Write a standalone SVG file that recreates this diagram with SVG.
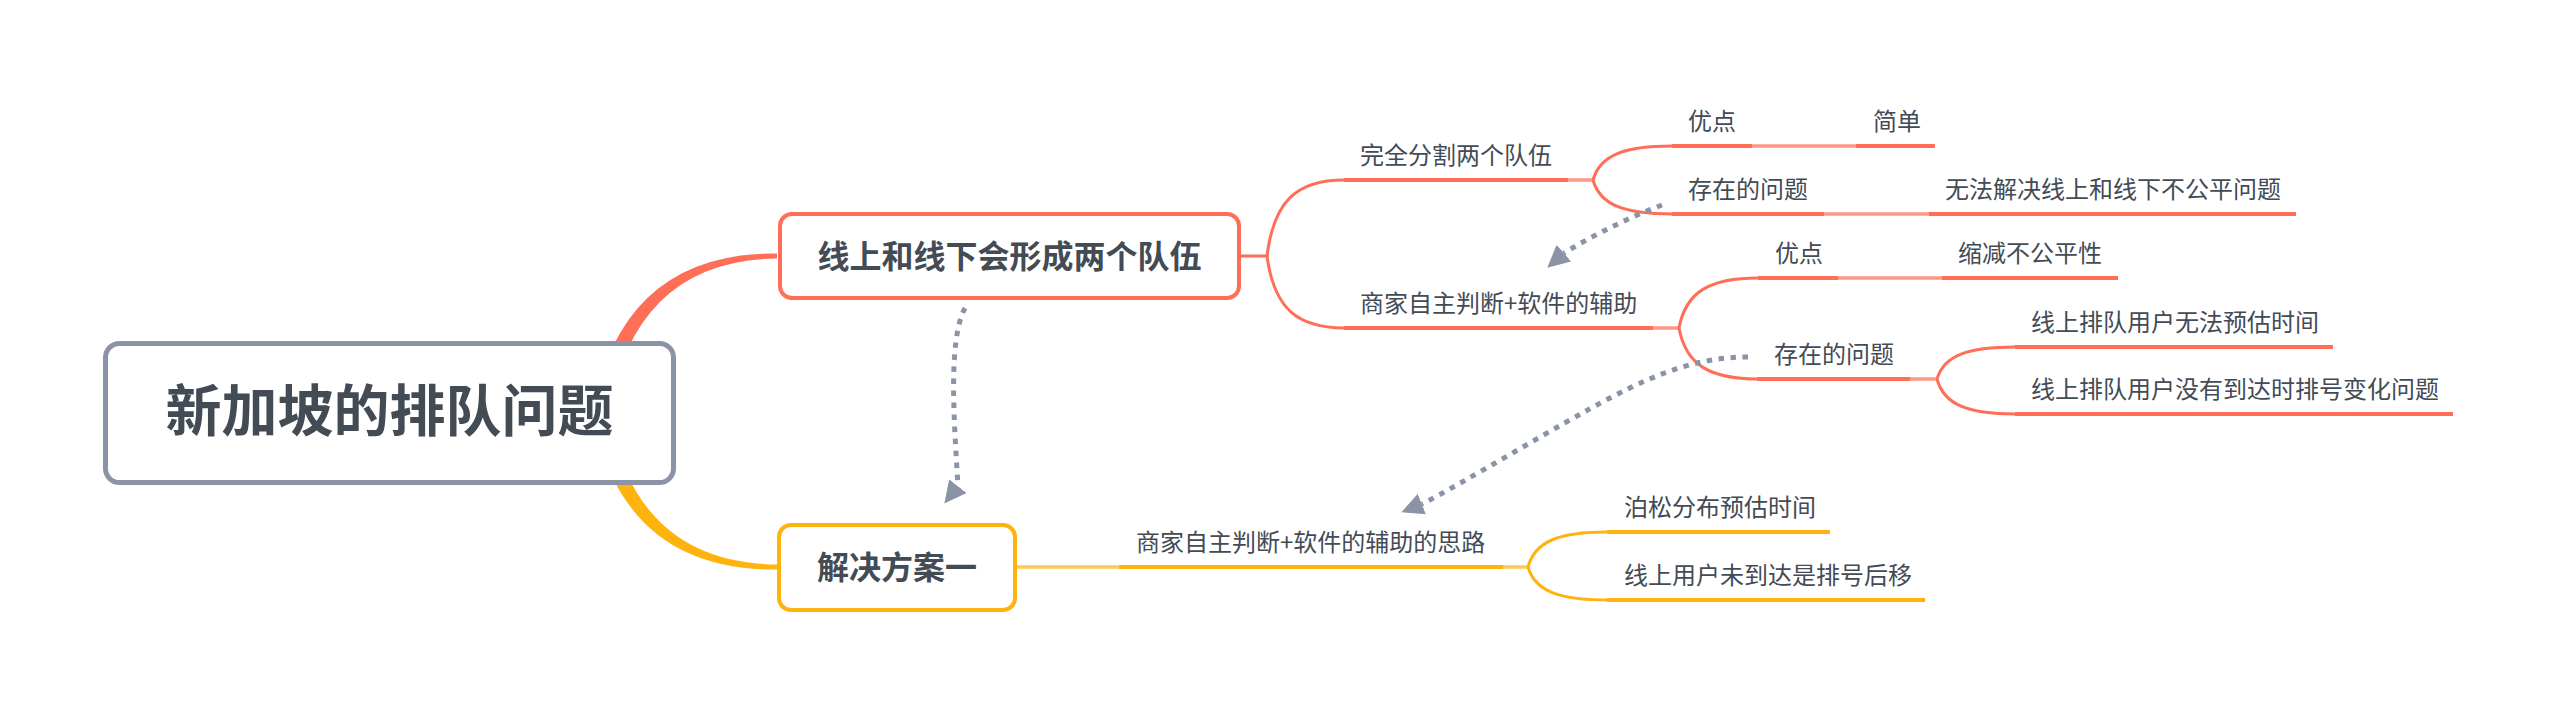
<svg xmlns="http://www.w3.org/2000/svg" width="2554" height="712" viewBox="0 0 2554 712">
<style>
text{font-family:"Noto Sans CJK SC","Noto Sans",sans-serif;fill:#434b55}
.root{font-size:56px;font-weight:bold;text-anchor:middle}
.main{font-size:32px;font-weight:bold;text-anchor:middle}
.sub{font-size:24px}
.box{fill:#fff}
.c-red{fill:none;stroke:#ff6e57;stroke-width:3}
.c-yel{fill:none;stroke:#ffb30f;stroke-width:3}
.l-red{fill:none;stroke:#ff6e57;stroke-width:3.5;stroke-opacity:.72}
.l-yel{fill:none;stroke:#ffb30f;stroke-width:3.5;stroke-opacity:.72}
.u-red{stroke:#ff6e57;stroke-width:4}
.u-yel{stroke:#ffb30f;stroke-width:4}
.rel{fill:none;stroke:#8a94a6;stroke-width:5;stroke-dasharray:5.5 6.5;marker-end:url(#arrow)}
</style>
<defs>
<marker id="arrow" markerUnits="userSpaceOnUse" viewBox="0 0 22 22" refX="0" refY="11" markerWidth="22" markerHeight="22" orient="auto">
<path d="M0,0 L22,11 L0,22 Z" fill="#8a94a6"/>
</marker>
</defs>
<rect width="2554" height="712" fill="#fff"/>
<g id="connectors">
<path d="M592 413 Q622 252 777 253.5 L777 258.5 Q636 260 608 413 Z" fill="#ff6e57"/>
<path d="M592 413 Q622 571 777 569.5 L777 564.5 Q636 563 608 413 Z" fill="#ffb30f"/>
<path class="c-red" d="M1241 256 L1267 256"/>
<path class="c-red" d="M1267 256 C1274 199.8 1297.8 180 1344 180"/>
<path class="c-red" d="M1267 256 C1274 309.3 1298 328 1344 328"/>
<path class="l-red" d="M1568 180 L1593 180"/>
<path class="c-red" d="M1593 180 C1600 154.8 1624.6 146 1672 146"/>
<path class="c-red" d="M1593 180 C1600 205.2 1624.6 214 1672 214"/>
<path class="l-red" d="M1752 146 L1856 146"/>
<path class="l-red" d="M1824 214 L1929 214"/>
<path class="l-red" d="M1653 328 L1679 328"/>
<path class="c-red" d="M1679 328 C1686 291 1710.6 278 1758 278"/>
<path class="c-red" d="M1679 328 C1686 365.7 1710.6 379 1758 379"/>
<path class="l-red" d="M1838 278 L1942 278"/>
<path class="l-red" d="M1910 379 L1937 379"/>
<path class="c-red" d="M1937 379 C1944 355.3 1968 347 2015 347"/>
<path class="c-red" d="M1937 379 C1944 404.9 1968 414 2015 414"/>
<path class="l-yel" d="M1017 567 L1119 567"/>
<path class="l-yel" d="M1503 567 L1528 567"/>
<path class="c-yel" d="M1528 567 C1535 541 1559.6 532 1607 532"/>
<path class="c-yel" d="M1528 567 C1535 591.4 1559.6 600 1607 600"/>
<path class="rel" d="M965 308 C948 340 954 420 958 486 l-0.14 0.18"/>
<path class="rel" d="M1662 205 Q1612 224 1564 253 l-0.16 0.14"/>
<path class="rel" d="M1748 357 C1700 357 1660 372 1610 398 S1465 482 1422 504 l-0.2 0.08"/>
</g>
<g id="root">
<rect class="box" x="105.5" y="343.5" width="568" height="139" rx="14" stroke="#8a94a6" stroke-width="5"/>
<text class="root" x="389.5" y="431">新加坡的排队问题</text>
</g>
<g id="node-two-queues">
<rect class="box" x="780" y="214" width="459" height="84" rx="12" stroke="#ff6e57" stroke-width="4"/>
<text class="main" x="1009.5" y="268">线上和线下会形成两个队伍</text>
</g>
<g id="node-solution-one">
<rect class="box" x="779" y="525" width="236" height="85" rx="12" stroke="#ffb30f" stroke-width="4"/>
<text class="main" x="897" y="579">解决方案一</text>
</g>
<g id="node-split">
<line class="u-red" x1="1344" y1="180" x2="1568" y2="180"/>
<text class="sub" x="1360" y="164">完全分割两个队伍</text>
</g>
<g id="node-merchant">
<line class="u-red" x1="1344" y1="328" x2="1653" y2="328"/>
<text class="sub" x="1360" y="312">商家自主判断+软件的辅助</text>
</g>
<g id="node-adv1">
<line class="u-red" x1="1672" y1="146" x2="1752" y2="146"/>
<text class="sub" x="1688" y="130">优点</text>
</g>
<g id="node-simple">
<line class="u-red" x1="1856" y1="146" x2="1935" y2="146"/>
<text class="sub" x="1873" y="130">简单</text>
</g>
<g id="node-issue1">
<line class="u-red" x1="1672" y1="214" x2="1824" y2="214"/>
<text class="sub" x="1688" y="198">存在的问题</text>
</g>
<g id="node-unfair">
<line class="u-red" x1="1929" y1="214" x2="2296" y2="214"/>
<text class="sub" x="1945" y="198">无法解决线上和线下不公平问题</text>
</g>
<g id="node-adv2">
<line class="u-red" x1="1758" y1="278" x2="1838" y2="278"/>
<text class="sub" x="1775" y="262">优点</text>
</g>
<g id="node-reduce">
<line class="u-red" x1="1942" y1="278" x2="2118" y2="278"/>
<text class="sub" x="1958" y="262">缩减不公平性</text>
</g>
<g id="node-issue2">
<line class="u-red" x1="1757" y1="379" x2="1910" y2="379"/>
<text class="sub" x="1774" y="363">存在的问题</text>
</g>
<g id="node-estimate">
<line class="u-red" x1="2015" y1="347" x2="2333" y2="347"/>
<text class="sub" x="2031" y="331">线上排队用户无法预估时间</text>
</g>
<g id="node-nochange">
<line class="u-red" x1="2015" y1="414" x2="2453" y2="414"/>
<text class="sub" x="2031" y="398">线上排队用户没有到达时排号变化问题</text>
</g>
<g id="node-idea">
<line class="u-yel" x1="1119" y1="567" x2="1503" y2="567"/>
<text class="sub" x="1136" y="551">商家自主判断+软件的辅助的思路</text>
</g>
<g id="node-poisson">
<line class="u-yel" x1="1607" y1="532" x2="1830" y2="532"/>
<text class="sub" x="1624" y="516">泊松分布预估时间</text>
</g>
<g id="node-shift">
<line class="u-yel" x1="1607" y1="600" x2="1925" y2="600"/>
<text class="sub" x="1624" y="584">线上用户未到达是排号后移</text>
</g>
</svg>
